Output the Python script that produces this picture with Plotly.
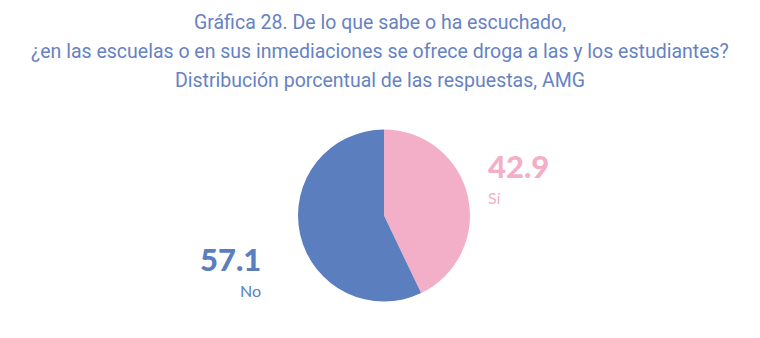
import plotly.graph_objects as go

labels = ["Sí", "No"]
values = [42.9, 57.1]
colors = ["#F4AFC8", "#5B7EBF"]
title_lines = [
    "Gráfica 28. De lo que sabe o ha escuchado,",
    "¿en las escuelas o en sus inmediaciones se ofrece droga a las y los estudiantes?",
    "Distribución porcentual de las respuestas, AMG",
]

W, H = 760, 338
fig = go.Figure()
fig.add_trace(go.Pie(
    labels=labels, values=values, sort=False, direction="clockwise", rotation=0,
    marker=dict(colors=colors, line=dict(width=0)),
    textinfo="none", hoverinfo="label+value", showlegend=False,
    domain=dict(x=[298 / W, 470 / W], y=[1 - 302 / H, 1 - 129 / H]),
))

# Title
for i, line in enumerate(title_lines):
    fig.add_annotation(text=line, x=0.5, y=1 - (22 + 29 * i) / H, xref="paper", yref="paper",
                       xanchor="center", yanchor="middle", showarrow=False,
                       font=dict(family="Roboto, sans-serif", size=19.5, weight=400, color="#6682C4"))

# Labels
pos = {"Sí": (486, "left", 166, 197), "No": (263, "right", 259, 290)}
for lab, val, col in zip(labels, values, colors):
    x, anchor, yv, yl = pos[lab]
    fig.add_annotation(text=f"{val:.1f}", x=x / W, y=1 - yv / H, xref="paper", yref="paper",
                       xanchor=anchor, yanchor="middle", showarrow=False,
                       font=dict(family="Lato, sans-serif", size=31, weight=900, color=col))
    fig.add_annotation(text=lab, x=x / W, y=1 - yl / H,
                       xref="paper", yref="paper",
                       xanchor=anchor, yanchor="middle", showarrow=False,
                       font=dict(family="Lato, sans-serif", size=16, color=col))

fig.update_layout(width=W, height=H, margin=dict(l=0, r=0, t=0, b=0),
                  paper_bgcolor="white", plot_bgcolor="white")
fig.write_html("out.html")
